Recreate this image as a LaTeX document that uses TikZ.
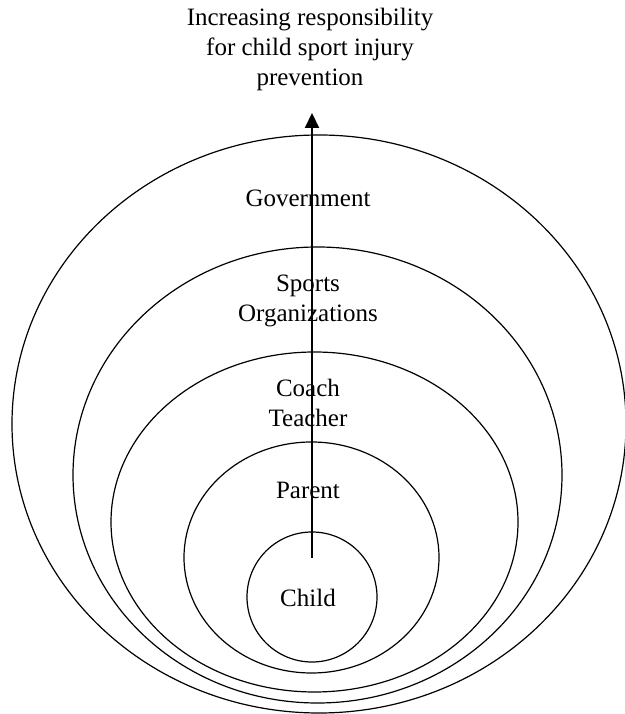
\documentclass[tikz,border=0pt]{standalone}
\usepackage{fontspec}
\setmainfont{Liberation Serif}
\usetikzlibrary{arrows.meta}
\begin{document}
\begin{tikzpicture}[x=1pt,y=1pt]
    \tikzstyle{ring}=[draw, line width=1.2pt]
    \tikzstyle{ringtext}=[font=\fontsize{25}{30}\selectfont, align=center, inner sep=0pt, anchor=base]
    \tikzstyle{upward}=[line width=2pt, -{Triangle[length=15pt,width=14pt]}]

    \useasboundingbox (0,0) rectangle (624,714);

    % Draw nested rings, outer to inner
    \foreach \cx/\cy/\rx/\ry in {319/290/307/289, 317.5/239/244.5/228, 314.5/192/203.5/170, 311.5/156.5/127.5/115.5, 312/117/65/65} {
        \draw[ring] (\cx,\cy) ellipse [x radius=\rx, y radius=\ry];
    }

    % Add ring labels (base is the last line)
    \node[ringtext] (government) at (308,507) {Government};
    \node[ringtext] (sportsorg) at (308,392) {Sports\\Organizations};
    \node[ringtext] (coach) at (308,287) {Coach\\Teacher};
    \node[ringtext] (parent) at (308,215) {Parent};
    \node[ringtext] (child) at (308,107) {Child};

    % Add title above the rings
    \node[ringtext] (title) at (310,628) {Increasing responsibility\\for child sport injury\\prevention};

    % Add arrow from child upwards
    \coordinate (tail) at (312,156);
    \coordinate (tip) at (312,601);
    \draw[upward] (tail) -- (tip);
\end{tikzpicture}
\end{document}
